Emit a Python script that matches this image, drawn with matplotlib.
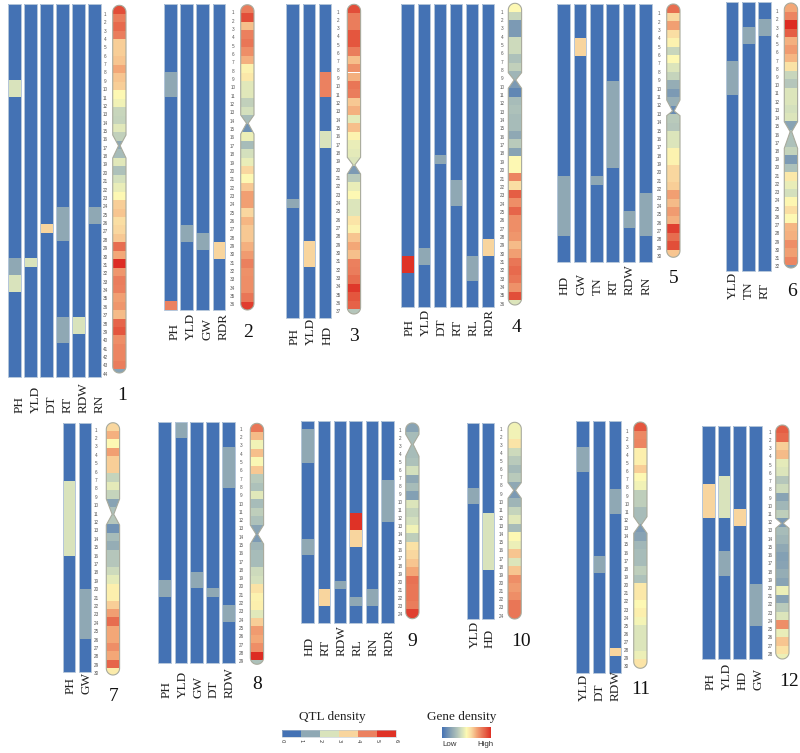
import numpy as np
import matplotlib
matplotlib.use("Agg")
import matplotlib.pyplot as plt
from matplotlib.colors import LinearSegmentedColormap, ListedColormap, BoundaryNorm
from matplotlib.colorbar import ColorbarBase
from matplotlib.patches import PathPatch
from matplotlib.path import Path

# ---------- data: QTL segments are (track index, start bin, end bin, density level) ----------
chr1_traits = ["PH", "YLD", "DT", "RT", "RDW", "RN"]
chr1_qtl = [(0, 9, 11, 2), (0, 30, 32, 1), (0, 32, 34, 2), (1, 30, 31, 2), (2, 26, 27, 3),
            (3, 24, 28, 1), (3, 37, 40, 1), (4, 37, 39, 2), (5, 24, 26, 1)]
chr1_gene = [92, 80, 85, 80, 62, 62, 64, 70, 64, 62, 50, 47, 37, 36, 43, 35, 20, 28, 43, 30, 40, 45,
             50, 62, 64, 58, 60, 63, 84, 70, 100, 74, 80, 79, 72, 74, 66, 86, 90, 76, 78, 78, 80, 18]

chr2_traits = ["PH", "YLD", "GW", "RDR"]
chr2_qtl = [(0, 8, 11, 1), (0, 35, 36, 4), (1, 26, 28, 1), (2, 27, 29, 1), (3, 28, 30, 3)]
chr2_gene = [80, 92, 65, 79, 82, 76, 68, 52, 55, 43, 43, 35, 40, 28, 12, 46, 28, 40, 45, 60, 50, 63,
             72, 72, 60, 67, 63, 63, 68, 73, 79, 75, 76, 76, 82, 96]

chr3_traits = ["PH", "YLD", "HD"]
chr3_qtl = [(0, 23, 24, 1), (1, 28, 31, 3), (2, 8, 11, 4), (2, 15, 17, 2)]
chr3_gene = [92, 80, 80, 90, 90, 80, 65, 75, 68, 82, 80, 63, 68, 44, 65, 52, 45, 44, 42, 15, 33, 45,
             50, 42, 42, 56, 52, 64, 70, 65, 79, 80, 84, 97, 90, 87, 32]

chr4_traits = ["PH", "YLD", "DT", "RT", "RL", "RDR"]
chr4_qtl = [(0, 30, 32, 5), (1, 29, 31, 1), (2, 18, 19, 1), (3, 21, 24, 1), (4, 30, 33, 1), (5, 28, 30, 3)]
chr4_gene = [50, 37, 15, 15, 38, 38, 30, 35, 25, 15, 8, 28, 30, 28, 28, 20, 33, 18, 50, 50, 78, 58,
             88, 76, 86, 76, 76, 74, 66, 72, 82, 85, 82, 75, 92, 42]

chr5_traits = ["HD", "GW", "TN", "RT", "RDW", "RN"]
chr5_qtl = [(0, 20, 27, 1), (1, 4, 6, 3), (2, 20, 21, 1), (3, 9, 19, 1), (4, 24, 26, 1), (5, 22, 27, 1)]
chr5_gene = [84, 60, 72, 58, 52, 37, 50, 42, 36, 22, 15, 23, 10, 33, 32, 42, 42, 52, 52, 60, 60, 62,
             72, 66, 73, 68, 95, 84, 92, 64]

chr6_traits = ["YLD", "TN", "RT"]
chr6_qtl = [(0, 7, 11, 1), (1, 3, 5, 1), (2, 2, 4, 1)]
chr6_gene = [70, 78, 100, 88, 68, 73, 67, 57, 37, 32, 42, 42, 40, 42, 18, 30, 30, 36, 15, 30, 55, 45,
             40, 51, 58, 50, 67, 68, 76, 72, 78, 15]

chr7_traits = ["PH", "GW"]
chr7_qtl = [(0, 7, 16, 2), (1, 20, 26, 1)]
chr7_gene = [60, 68, 50, 72, 62, 62, 36, 44, 36, 18, 30, 32, 12, 28, 22, 32, 32, 38, 44, 53, 53, 62,
             72, 84, 70, 70, 76, 70, 86, 54]

chr8_traits = ["PH", "YLD", "GW", "DT", "RDW"]
chr8_qtl = [(0, 19, 21, 1), (1, 0, 2, 1), (2, 18, 20, 1), (3, 20, 21, 1), (4, 3, 8, 1), (4, 22, 24, 1)]
chr8_gene = [82, 66, 47, 65, 49, 63, 33, 30, 43, 28, 34, 30, 18, 15, 25, 28, 28, 38, 40, 57, 52, 53,
             43, 62, 73, 70, 76, 100, 30]

chr9_traits = ["HD", "RT", "RDW", "RL", "RN", "RDR"]
chr9_qtl = [(0, 1, 5, 1), (0, 14, 16, 1), (1, 20, 22, 3), (2, 19, 20, 1), (3, 11, 13, 5), (3, 13, 15, 3),
            (3, 21, 22, 1), (4, 20, 22, 1), (5, 7, 12, 1)]
chr9_gene = [18, 18, 28, 28, 28, 30, 40, 20, 28, 17, 42, 36, 40, 47, 34, 57, 60, 64, 70, 83, 82, 82, 80, 95]

chr10_traits = ["YLD", "HD"]
chr10_qtl = [(0, 8, 10, 1), (1, 11, 18, 2)]
chr10_gene = [47, 47, 56, 38, 33, 27, 33, 20, 15, 25, 36, 43, 28, 50, 46, 64, 42, 64, 76, 73, 76, 82, 82, 82]

chr11_traits = ["YLD", "DT", "RDW"]
chr11_qtl = [(0, 3, 6, 1), (1, 16, 18, 1), (2, 8, 11, 1), (2, 27, 28, 3)]
chr11_gene = [90, 77, 78, 53, 53, 62, 50, 47, 34, 34, 28, 28, 15, 18, 26, 28, 28, 34, 30, 55, 55, 50,
              53, 48, 42, 42, 42, 46, 56, 56]

chr12_traits = ["PH", "YLD", "HD", "GW"]
chr12_qtl = [(0, 7, 11, 3), (1, 6, 11, 2), (1, 15, 18, 1), (2, 10, 12, 3), (3, 19, 24, 1)]
chr12_gene = [88, 85, 62, 66, 44, 42, 32, 38, 18, 26, 34, 15, 28, 25, 20, 17, 18, 22, 18, 46, 18, 33,
              42, 76, 45, 64, 57, 46]

chromosomes = [chr1_traits, chr2_traits, chr3_traits, chr4_traits, chr5_traits, chr6_traits,
               chr7_traits, chr8_traits, chr9_traits, chr10_traits, chr11_traits, chr12_traits]
qtl_sets = [chr1_qtl, chr2_qtl, chr3_qtl, chr4_qtl, chr5_qtl, chr6_qtl,
            chr7_qtl, chr8_qtl, chr9_qtl, chr10_qtl, chr11_qtl, chr12_qtl]
gene_sets = [chr1_gene, chr2_gene, chr3_gene, chr4_gene, chr5_gene, chr6_gene,
             chr7_gene, chr8_gene, chr9_gene, chr10_gene, chr11_gene, chr12_gene]
qtl_ticks = [0, 1, 2, 3, 4, 5, 6]

# ---------- layout, in reference pixels ----------
W, H = 800, 753
# track left edges, track width, top, bottom
track_lefts = [[8.3, 24.3, 40.3, 56.3, 72.3, 88], [164.3, 180.3, 196.3, 212.5], [286.3, 302.7, 318.7],
               [401.3, 417.7, 433.7, 449.7, 465.7, 481.7], [557, 573.7, 590, 606, 622.7, 639], [725.7, 742, 758],
               [63, 79], [158.3, 174.7, 190.3, 206, 222], [301.3, 317.7, 333.7, 349.3, 365.7, 381.3],
               [467.3, 482.3], [576.3, 592.7, 608.7], [702, 717.7, 733.3, 749.3]]
track_w = [12.5, 12.8, 12.8, 12.7, 12.7, 12.7, 12.3, 12.7, 12.7, 11.7, 12.7, 12.5]
track_top = [4, 3.7, 4.3, 3.7, 4, 2.3, 423.3, 421.7, 420.7, 422.7, 421.3, 426]
track_bot = [376.7, 310, 317.7, 306.7, 262.3, 270.7, 671.7, 663.3, 622.7, 619, 673.3, 659]
# ideogram: left edge, top, bottom, first inner band edge, last inner band edge, shoulder, pinch, shoulder
ideo = [(112.7, 5.3, 373, 14, 369.3, 135, 145.7, 158),
        (240.7, 4.7, 310, 13.3, 301.7, 115, 123.3, 134),
        (347.3, 4.3, 314, 13.3, 309.3, 157.3, 165, 174),
        (508.3, 3.3, 305, 12, 300, 72.7, 80, 88.3),
        (666.7, 4, 257.3, 12.7, 249.7, 100, 111, 115.7),
        (784.3, 3, 268, 11.7, 265, 121.7, 131.7, 148.3),
        (106.3, 422.7, 675, 431, 668.3, 499, 514.3, 525),
        (250.3, 423.3, 664.3, 431.7, 660.3, 525, 534.3, 544),
        (405.7, 423, 618.7, 424, 609.3, 434.3, 444.3, 456.3),
        (508, 422.3, 619, 430.7, 617, 482.7, 490.3, 498.3),
        (633.7, 422, 668.3, 430.7, 667.7, 516.7, 525, 533.3),
        (775.7, 425, 659, 433.3, 654.3, 518.3, 523.3, 528.3)]
IDEO_W = 13.3
# bin number column: x, y of first, y of last
num_col = [(105.3, 14.3, 374.3), (232.7, 12.7, 305), (338.3, 12, 311.7), (502, 12, 304.3),
           (659.3, 13.7, 256.7), (777.3, 11.7, 266.7), (96, 430, 673.7), (241, 429.3, 661.7),
           (400, 430.3, 614), (501, 429, 616), (626.7, 431, 667), (770, 432.3, 654.3)]
# trait label baseline y and x shift from the track centre
label_base = [413.3, 340, 345, 335.7, 295, 299.3, 694.3, 698.3, 655.7, 648.3, 701, 690]
label_dx = [5, 4.3, 2.3, 1.7, 1, 0.7, 1.2, 1.5, 1.7, 1.6, 0.8, 2.6]
# chromosome number centres
chrom_xy = [(122.3, 395), (248.3, 332.3), (354, 336.7), (516, 327.7), (673.3, 278.3), (791.7, 291.7),
            (114, 696.7), (257.3, 684.3), (412.7, 641.7), (520.7, 641), (641, 690), (789.3, 681.7)]

# ---------- styles ----------
QTL_COLORS = ["#4472B4", "#8FA8B4", "#D9E3BC", "#F8D59E", "#EB8160", "#DF3226"]
TRACK_EDGE = "#B4C6DA"
IDEO_EDGE = "#A8AA9C"
gene_cmap = LinearSegmentedColormap.from_list("gene", [
    (0.0, "#4472b4"), (0.2, "#8fa8b4"), (0.3, "#aec1ba"), (0.4, "#d4e0bd"), (0.5, "#fdf9b3"),
    (0.6, "#f9d79f"), (0.7, "#f3a878"), (0.8, "#ea7d5c"), (0.9, "#e4573f"), (1.0, "#dd2c23")])
SERIF = "Liberation Serif"
SANS = "Liberation Sans"

fig = plt.figure(figsize=(W / 100, H / 100), dpi=100, facecolor="white")


def figxy(x, y):
    return x / W, 1 - y / H


def outline_path(x0, top, bot, s1, p, s2, to_bin):
    """Ideogram outline: rounded ends and a pinched centromere."""
    r = IDEO_W / 2
    cx = x0 + r
    th = np.linspace(0, np.pi / 2, 14)
    right = [(cx + r * np.sin(t), top + r * (1 - np.cos(t))) for t in th]
    right += [(cx + r, s1), (cx + 0.8, p), (cx + r, s2)]
    right += [(cx + r * np.cos(t), bot - r * (1 - np.cos(np.pi / 2 - t))) for t in th]
    pts = right + [(2 * cx - a, b) for a, b in right[::-1]]
    xy = [(a, to_bin(b)) for a, b in pts]
    return Path(xy + [xy[0]], closed=False)


for i, traits in enumerate(chromosomes):
    gene = gene_sets[i]
    n = len(gene)
    top, bot = track_top[i], track_bot[i]
    lefts = track_lefts[i]
    w = track_w[i]
    x0, itop, ibot, e1, e2, s1, pinch, s2 = ideo[i]

    def to_bin(px, top=top, bot=bot, n=n):
        return (px - top) / (bot - top) * n

    ax_left, ax_right = lefts[0] - 3, x0 + IDEO_W + 2
    ax_top, ax_bot = top - 3, bot + 6
    ax = fig.add_axes([ax_left / W, 1 - ax_bot / H, (ax_right - ax_left) / W, (ax_bot - ax_top) / H])
    ax.set_xlim(ax_left, ax_right)
    ax.set_ylim(to_bin(ax_bot), to_bin(ax_top))
    ax.axis("off")

    centres = [l + w / 2 for l in lefts]
    ax.bar(centres, [n] * len(traits), width=w, bottom=0, color=QTL_COLORS[0], linewidth=0)
    for t, a, b, lev in qtl_sets[i]:
        ax.bar(centres[t], b - a, width=w, bottom=a, color=QTL_COLORS[lev], linewidth=0)
    ax.bar(centres, [n] * len(traits), width=w, bottom=0, fill=False, edgecolor=TRACK_EDGE, linewidth=0.7)

    # ideogram bands clipped to the outline
    shape = PathPatch(outline_path(x0, itop, ibot, s1, pinch, s2, to_bin),
                      facecolor="none", edgecolor=IDEO_EDGE, linewidth=0.8, zorder=4)
    ax.add_patch(shape)
    edges_px = np.r_[itop, np.linspace(e1, e2, n - 1), ibot]
    edges = to_bin(edges_px)
    bars = ax.bar([x0 + IDEO_W / 2] * n, np.diff(edges), width=IDEO_W, bottom=edges[:-1],
                  color=[gene_cmap(v / 100) for v in gene], linewidth=0, zorder=3)
    for b in bars:
        b.set_clip_path(shape)

    # bin numbers
    nx, ny0, ny1 = num_col[i]
    for k, y in enumerate(np.linspace(ny0, ny1, n)):
        fx, fy = figxy(nx, y)
        fig.text(fx, fy, str(k + 1), ha="center", va="center", fontsize=3.3, family=SANS, color="#555555")

    # trait labels and chromosome number
    for c, t in zip(centres, traits):
        fx, fy = figxy(c + label_dx[i], label_base[i])
        fig.text(fx, fy, t, rotation=90, ha="center", va="bottom", fontsize=9.5, family=SERIF, color="#222222")
    fx, fy = figxy(*chrom_xy[i])
    fig.text(fx, fy, str(i + 1), ha="center", va="center", fontsize=14, family=SERIF, color="#111111")

# ---------- legends ----------
fx, fy = figxy(332.7, 716.7)
fig.text(fx, fy, "QTL density", ha="center", va="center", fontsize=9.5, family=SERIF, color="#222222")
fx, fy = figxy(461.7, 716.7)
fig.text(fx, fy, "Gene density", ha="center", va="center", fontsize=9.5, family=SERIF, color="#222222")

cax = fig.add_axes([281.7 / W, 1 - 737 / H, (396 - 281.7) / W, 7 / H])
cb = ColorbarBase(cax, cmap=ListedColormap(QTL_COLORS), norm=BoundaryNorm(qtl_ticks, 6),
                  orientation="horizontal", ticks=qtl_ticks, spacing="proportional")
cb.ax.tick_params(length=0, labelsize=3.8, labelrotation=270, pad=1.5, colors="#333333")
cb.outline.set_edgecolor("#B9C4CE")
cb.outline.set_linewidth(0.4)

gax = fig.add_axes([442 / W, 1 - 738.3 / H, (491.3 - 442) / W, 11 / H])
gb = ColorbarBase(gax, cmap=gene_cmap, orientation="horizontal", ticks=[])
gb.outline.set_visible(False)
fx, fy = figxy(449.7, 744.3)
fig.text(fx, fy, "Low", ha="center", va="center", fontsize=5.7, family=SANS, color="#333333")
fx, fy = figxy(485.7, 744.3)
fig.text(fx, fy, "High", ha="center", va="center", fontsize=5.7, family=SANS, color="#333333")

fig.savefig("out.png", dpi=100, facecolor="white")
